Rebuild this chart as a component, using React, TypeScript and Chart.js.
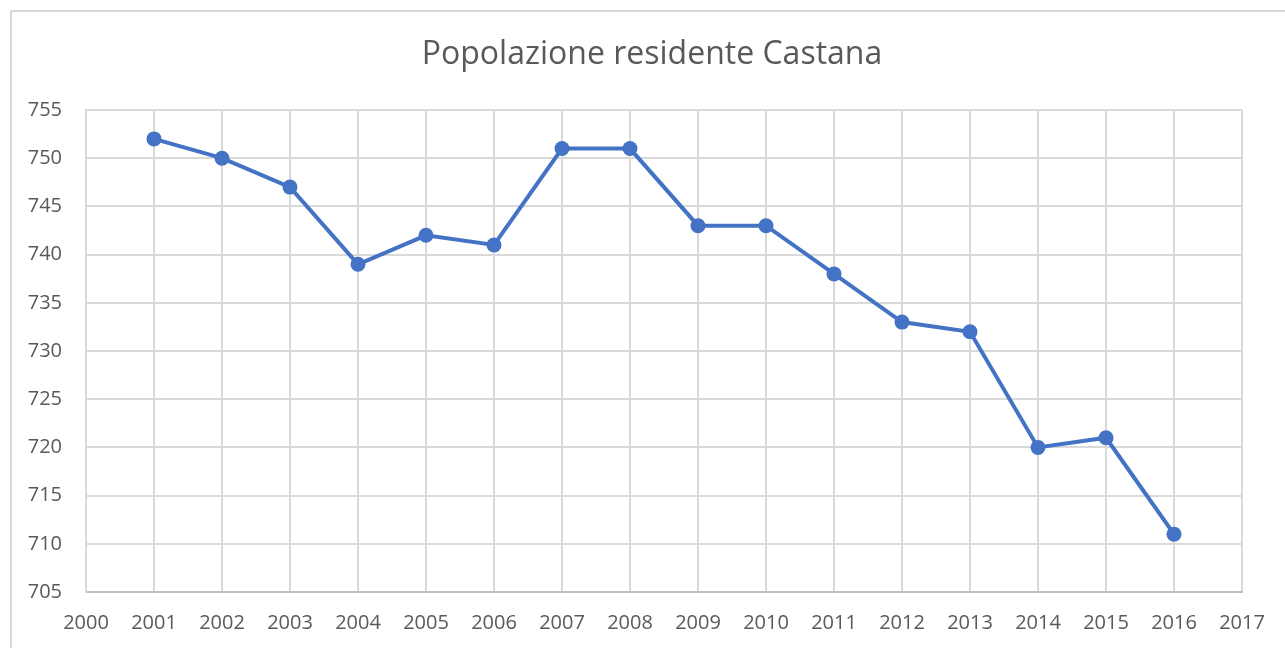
import React, { useEffect, useRef } from "react";
import { Chart, registerables } from "chart.js";

Chart.register(...registerables);

const years = [2001, 2002, 2003, 2004, 2005, 2006, 2007, 2008, 2009, 2010, 2011, 2012, 2013, 2014, 2015, 2016];
const population = [752, 750, 747, 739, 742, 741, 751, 751, 743, 743, 738, 733, 732, 720, 721, 711];
const xRange = [2000, 2017];
const yRange = [705, 755];
const titleText = "Popolazione residente Castana";

const font = "'Open Sans', sans-serif";

const titlePlugin = {
  id: "customTitle",
  afterDraw(chart: any) {
    const ctx = chart.ctx;
    ctx.save();
    ctx.fillStyle = "#595959";
    ctx.font = `32px ${font}`;
    ctx.textAlign = "center";
    ctx.textBaseline = "middle";
    ctx.fillText(titleText, 652, 55);
    ctx.restore();
  },
};

export default function App() {
  const ref = useRef<HTMLCanvasElement | null>(null);
  useEffect(() => {
    if (!ref.current) return;
    const chart = new Chart(ref.current, {
      type: "line",
      data: {
        datasets: [
          {
            label: "Popolazione",
            data: years.map((y, i) => ({ x: y, y: population[i] })),
            borderColor: "#4472C4",
            backgroundColor: "#4472C4",
            borderWidth: 4,
            pointRadius: 7.5,
            pointBorderWidth: 0,
            pointBackgroundColor: "#4472C4",
            tension: 0,
          },
        ],
      },
      plugins: [titlePlugin],
      options: {
        responsive: false,
        animation: false,
        layout: { padding: { left: 0, right: 43, top: 110, bottom: 0 } },
        plugins: {
          legend: { display: false },
          tooltip: { enabled: false },
          title: { display: false },
        },
        scales: {
          x: {
            type: "linear",
            min: xRange[0],
            max: xRange[1],
            afterFit: (s: any) => {
              s.height = 56;
            },
            ticks: {
              stepSize: 1,
              color: "#595959",
              font: { family: font, size: 20 },
              padding: 19,
              maxRotation: 0,
              autoSkip: false,
              callback: (v: any) => String(v),
            },
            grid: { color: "#d9d9d9", lineWidth: 2, drawTicks: false },
            border: { color: "#bfbfbf", width: 2 },
          },
          y: {
            min: yRange[0],
            max: yRange[1],
            afterFit: (s: any) => {
              s.width = 86;
            },
            ticks: {
              stepSize: 5,
              color: "#595959",
              font: { family: font, size: 20 },
              padding: 24,
            },
            grid: { color: "#d9d9d9", lineWidth: 2, drawTicks: false },
            border: { color: "#d9d9d9", width: 2 },
          },
        },
      },
    });
    return () => chart.destroy();
  }, []);
  return (
    <div style={{ position: "fixed", left: 0, top: 0, width: 1285, height: 648, overflow: "hidden", background: "#fff" }}>
      <div
        style={{
          position: "absolute",
          left: 10,
          top: 10,
          width: 1400,
          height: 800,
          border: "2px solid #d9d9d9",
        }}
      />
      <canvas
        ref={ref}
        width={1285}
        height={648}
        style={{ position: "absolute", left: 0, top: 0, width: 1285, height: 648 }}
      />
    </div>
  );
}
